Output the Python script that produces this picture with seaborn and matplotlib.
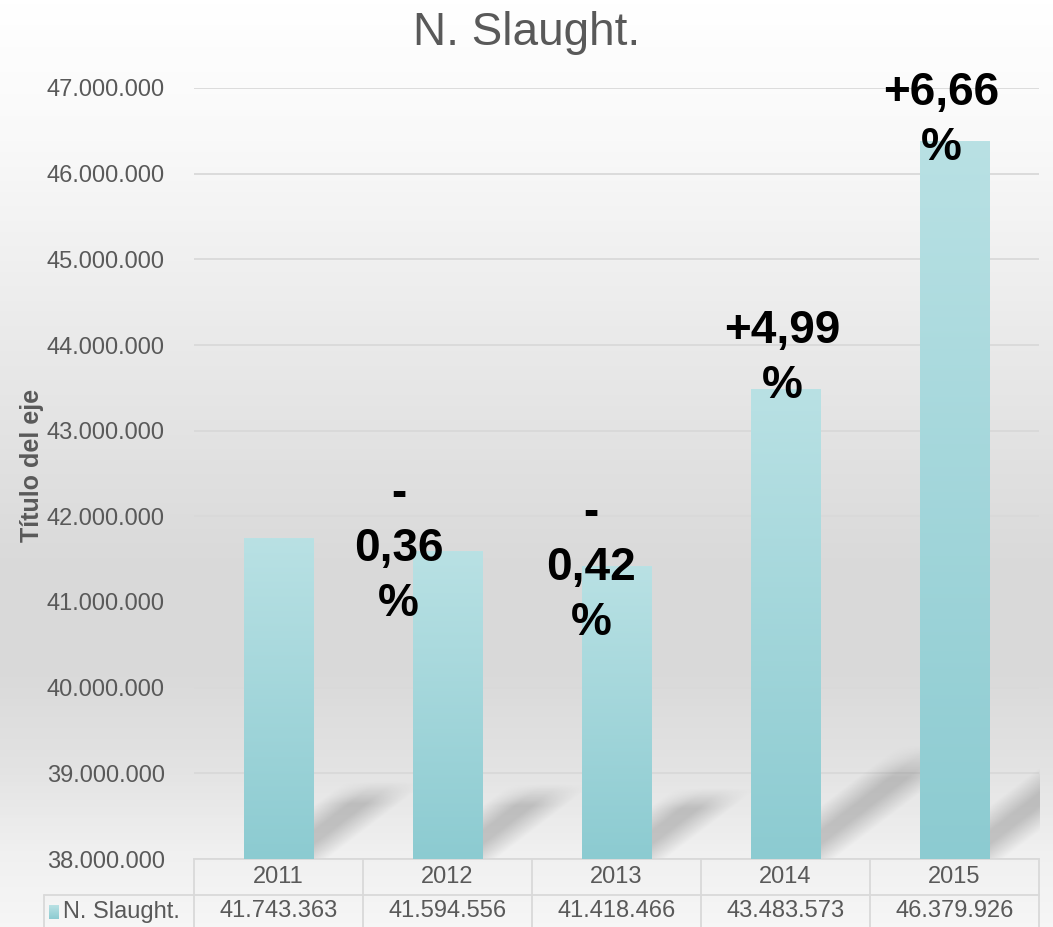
import numpy as np
import pandas as pd
import matplotlib
matplotlib.use("Agg")
import matplotlib.pyplot as plt
import seaborn as sns
from matplotlib.colors import LinearSegmentedColormap
from matplotlib.lines import Line2D
from matplotlib.patches import Rectangle
from matplotlib import transforms

years = ["2011", "2012", "2013", "2014", "2015"]
slaught = [41743363, 41594556, 41418466, 43483573, 46379926]
value_labels = ["41.743.363", "41.594.556", "41.418.466", "43.483.573", "46.379.926"]
change_labels = ["-\n0,36\n%", "-\n0,42\n%", "+4,99\n%", "+6,66\n%"]
change_x = [0.71, 1.85, 2.98, 3.92]
change_y = [41.62e6, 41.40e6, 43.84e6, 46.62e6]

sns.set_style("white")
plt.rcParams['font.family'] = ['Liberation Sans', 'DejaVu Sans']

W, H = 1053, 927
fig = plt.figure(figsize=(W / 100, H / 100), dpi=100)

# background gradient (white -> gray -> light)
bg = fig.add_axes([0, 0, 1, 1], zorder=-10)
bg_cmap = LinearSegmentedColormap.from_list("bg", [
    (0.0, "#ffffff"), (0.15, "#f9f9f9"), (0.38, "#e9e9e9"), (0.6, "#dadada"),
    (0.72, "#d9d9d9"), (0.83, "#e3e3e3"), (0.92, "#f0f0f0"), (1.0, "#f6f6f6")])
bg.imshow(np.linspace(0, 1, 256).reshape(-1, 1), aspect="auto", cmap=bg_cmap,
          extent=[0, 1, 0, 1])
bg.axis("off")

ax = fig.add_axes([194 / W, (H - 859) / H, 845 / W, 771 / H])
ax.set_facecolor("none")

df = pd.DataFrame({"year": years, "value": slaught})
sns.barplot(data=df, x="year", y="value", width=0.41, ax=ax, zorder=3)

ymin, ymax = 38e6, 47e6
ax.set_ylim(ymin, ymax)
ax.set_xlim(-0.5, 4.5)

bar_cmap = LinearSegmentedColormap.from_list("bar", ["#8ccbd1", "#b9e1e4"])
grad = np.linspace(0, 1, 256).reshape(-1, 1)
px_per_unit = 771 / (ymax - ymin)


def soft(t, edge):
    return np.clip(t / edge, 0, 1) * np.clip((1 - t) / edge, 0, 1)


for p in list(ax.patches):
    x0, w = p.get_x(), p.get_width()
    top = p.get_y() + p.get_height()
    p.set_visible(False)
    clip = Rectangle((x0, ymin), w, top - ymin, transform=ax.transData)
    im = ax.imshow(grad, aspect="auto", cmap=bar_cmap, origin="lower",
                   extent=[x0, x0 + w, ymin, top], zorder=3)
    im.set_clip_path(clip)
    # soft perspective shadow
    hpx = (top - ymin) * px_per_unit
    dx = 0.3 * hpx / 169
    dy = 0.23 * (top - ymin)
    xs = np.linspace(x0, x0 + w * 1.2 + dx, 220)
    ys = np.linspace(ymin, ymin + dy * 1.05, 140)
    X, Y = np.meshgrid(xs, ys)
    v = (Y - ymin) / dy
    u = (X - x0 - v * dx) / (w * 1.2)
    a = soft(u, 0.4) * np.clip((1.05 - v) / 0.3, 0, 1)
    rgba = np.zeros(X.shape + (4,))
    rgba[..., :3] = 0.45
    rgba[..., 3] = 0.36 * np.clip(a, 0, 1)
    ax.imshow(rgba, aspect="auto", origin="lower",
              extent=[xs[0], xs[-1], ymin, ys[-1]], zorder=2,
              interpolation="bilinear")
ax.set_ylim(ymin, ymax)
ax.set_xlim(-0.5, 4.5)

ax.yaxis.set_major_locator(matplotlib.ticker.MultipleLocator(1e6))
ax.yaxis.set_major_formatter(matplotlib.ticker.FuncFormatter(
    lambda v, pos: f"{int(round(v)):,}".replace(",", ".")))
ax.grid(axis="y", color="#d9d9d9", linewidth=1.3, zorder=1)
ax.set_axisbelow(True)
ax.tick_params(axis="y", labelsize=17, labelcolor="#595959", length=0, pad=21)
ax.set_xticks([])
ax.set_xlabel("")
ax.set_ylabel("Título del eje", fontsize=18, fontweight="bold", color="#595959")
ax.yaxis.set_label_coords(-0.178, 0.51)
for sp in ["top", "right", "left"]:
    ax.spines[sp].set_visible(False)
ax.spines["bottom"].set_color("#d9d9d9")
ax.spines["bottom"].set_linewidth(1.3)

fig.text(0.5, 1 - 33 / H, "N. Slaught.", ha="center", va="center",
         fontsize=33, color="#595959")

for lbl, x, y in zip(change_labels, change_x, change_y):
    ax.text(x, y, lbl, ha="center", va="center", fontsize=33,
            fontweight="bold", color="black", linespacing=1.33, zorder=5,
            clip_on=False)

# data table under the chart
tr = transforms.blended_transform_factory(ax.transData, ax.transAxes)
r1 = 36 / 771
r2 = 68 / 771
line_kw = dict(color="#d9d9d9", linewidth=1.3, clip_on=False)
for b in np.arange(-0.5, 5.0, 1.0):
    ax.add_line(Line2D([b, b], [0, -r2 - 0.01], transform=tr, **line_kw))
fig.add_artist(Line2D([44 / W, 1039 / W], [(H - 895) / H] * 2,
                      color="#d9d9d9", linewidth=1.3))
fig.add_artist(Line2D([44 / W, 44 / W], [(H - 895) / H, 0],
                      color="#d9d9d9", linewidth=1.3))
for i, (yr, val) in enumerate(zip(years, value_labels)):
    ax.text(i, -r1 / 2, yr, transform=tr, ha="center", va="center",
            fontsize=17, color="#595959")
    ax.text(i, -(r1 + r2) / 2, val, transform=tr, ha="center", va="center",
            fontsize=17, color="#595959")
fig.text(63 / W, (H - 912) / H, "N. Slaught.", ha="left", va="center",
         fontsize=17, color="#595959")
key = fig.add_axes([49 / W, (H - 919) / H, 10 / W, 14 / H])
key.imshow(grad, aspect="auto", cmap=bar_cmap, origin="lower")
key.axis("off")

fig.savefig("out.png", dpi=100)
